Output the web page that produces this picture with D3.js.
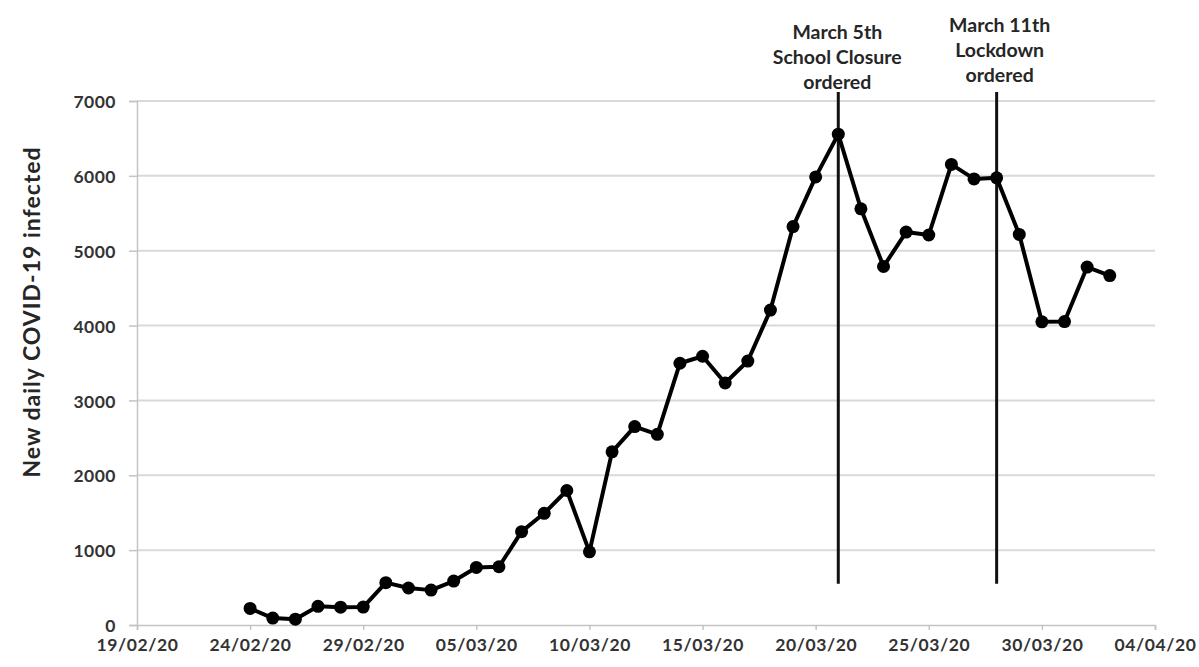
<!DOCTYPE html>
<html>
<head>
<meta charset="utf-8">
<script src="https://cdn.jsdelivr.net/npm/d3@7"></script>
<style>
    body { margin: 0; background: #fff; }
    text { font-family: Lato, "Open Sans", sans-serif; font-weight: bold; }
</style>
</head>
<body>
<div id="chart-area"></div>
<script>
// Daily new cases, 24/02/20 - 02/04/20
var dates = ["24/02/20","25/02/20","26/02/20","27/02/20","28/02/20","29/02/20",
    "01/03/20","02/03/20","03/03/20","04/03/20","05/03/20","06/03/20","07/03/20",
    "08/03/20","09/03/20","10/03/20","11/03/20","12/03/20","13/03/20","14/03/20",
    "15/03/20","16/03/20","17/03/20","18/03/20","19/03/20","20/03/20","21/03/20",
    "22/03/20","23/03/20","24/03/20","25/03/20","26/03/20","27/03/20","28/03/20",
    "29/03/20","30/03/20","31/03/20","01/04/20","02/04/20"];
var cases = [221, 93, 78, 250, 238, 240, 566, 494, 466, 587, 769, 778, 1247,
    1492, 1797, 977, 2313, 2651, 2547, 3497, 3590, 3233, 3526, 4207, 5322,
    5986, 6557, 5560, 4789, 5249, 5210, 6153, 5959, 5974, 5217, 4050, 4053,
    4782, 4668];

// x axis tick labels and y ticks
var xTicks = ["19/02/20","24/02/20","29/02/20","05/03/20","10/03/20","15/03/20",
    "20/03/20","25/03/20","30/03/20","04/04/20"];
var yTicks = [0, 1000, 2000, 3000, 4000, 5000, 6000, 7000];

// annotations: date of vertical line + label lines
var eventDates = ["21/03/20", "28/03/20"];
var eventLabels = [["March 5th", "School Closure", "ordered"],
                   ["March 11th", "Lockdown", "ordered"]];
var eventRange = [550, 7120];

var parse = d3.timeParse("%d/%m/%y");

var margin = { left: 137, right: 44, top: 101, bottom: 42 };
var W = 1199, H = 667;
var width = W - margin.left - margin.right,
    height = H - margin.top - margin.bottom;

var svg = d3.select("#chart-area")
    .append("svg")
        .attr("width", W)
        .attr("height", H)
    .append("g")
        .attr("transform", "translate(" + margin.left + ", " + margin.top + ")");

var x = d3.scaleTime()
    .domain([parse(xTicks[0]), parse(xTicks[xTicks.length - 1])])
    .range([0, width]);
var y = d3.scaleLinear().domain([0, 7000]).range([height, 0]);

// gridlines
svg.append("g").selectAll("line")
    .data(yTicks.slice(1))
    .enter().append("line")
        .attr("x1", 0).attr("x2", width)
        .attr("y1", function(d){ return y(d); })
        .attr("y2", function(d){ return y(d); })
        .attr("stroke", "#d9d9d9")
        .attr("stroke-width", 2);

// X axis
var xAxisCall = d3.axisBottom(x)
    .tickValues(xTicks.map(parse))
    .tickFormat(d3.timeFormat("%d/%m/%y"))
    .tickSize(5)
    .tickPadding(9);
var xAxisGroup = svg.append("g")
    .attr("class", "x axis")
    .attr("transform", "translate(0," + height + ")")
    .call(xAxisCall);

// Y axis
var yAxisCall = d3.axisLeft(y)
    .tickValues(yTicks)
    .tickFormat(d3.format("d"))
    .tickSize(8)
    .tickPadding(13);
var yAxisGroup = svg.append("g").attr("class", "y axis").call(yAxisCall);

svg.selectAll(".axis path, .axis line")
    .attr("stroke", "#c4c4c4")
    .attr("stroke-width", 1.5);
xAxisGroup.selectAll("text")
    .attr("font-size", "17.5px")
    .attr("fill", "#333")
    .attr("letter-spacing", "0.6px");
yAxisGroup.selectAll("text")
    .attr("font-size", "17.5px")
    .attr("fill", "#333")
    .attr("letter-spacing", "0.5px")
    .attr("dy", "0.38em");

// Y label
svg.append("text")
    .attr("y", -97)
    .attr("x", -211)
    .attr("font-size", "23px")
    .attr("letter-spacing", "1px")
    .attr("fill", "#262626")
    .attr("text-anchor", "middle")
    .attr("transform", "rotate(-90)")
    .text("New daily COVID-19 infected");

// event lines
svg.append("g").selectAll("line")
    .data(eventDates)
    .enter().append("line")
        .attr("x1", function(d){ return x(parse(d)); })
        .attr("x2", function(d){ return x(parse(d)); })
        .attr("y1", y(eventRange[0]))
        .attr("y2", y(eventRange[1]))
        .attr("stroke", "#111")
        .attr("stroke-width", 3);

var labels = svg.append("g").selectAll("text")
    .data(eventDates)
    .enter().append("text")
        .attr("text-anchor", "middle")
        .attr("font-size", "19.5px")
        .attr("fill", "#262626")
        .attr("y", function(d, i){ return i === 0 ? -62 : -69; });
labels.selectAll("tspan")
    .data(function(d, i){
        return eventLabels[i].map(function(t){ return { t: t, d: d, i: i }; });
    })
    .enter().append("tspan")
        .attr("x", function(o){ return x(parse(o.d)) + (o.i === 0 ? -1 : 3); })
        .attr("dy", function(o, j){ return j === 0 ? 0 : 25; })
        .text(function(o){ return o.t; });

// line series
var data = dates.map(function(d, i){ return { date: parse(d), value: cases[i] }; });
var line = d3.line()
    .x(function(d){ return x(d.date); })
    .y(function(d){ return y(d.value); });

svg.append("path")
    .datum(data)
    .attr("fill", "none")
    .attr("stroke", "#000")
    .attr("stroke-width", 4)
    .attr("stroke-linejoin", "round")
    .attr("d", line);

svg.selectAll("circle")
    .data(data)
    .enter().append("circle")
        .attr("cx", function(d){ return x(d.date); })
        .attr("cy", function(d){ return y(d.value); })
        .attr("r", 6.5)
        .attr("fill", "#000");
</script>
</body>
</html>
